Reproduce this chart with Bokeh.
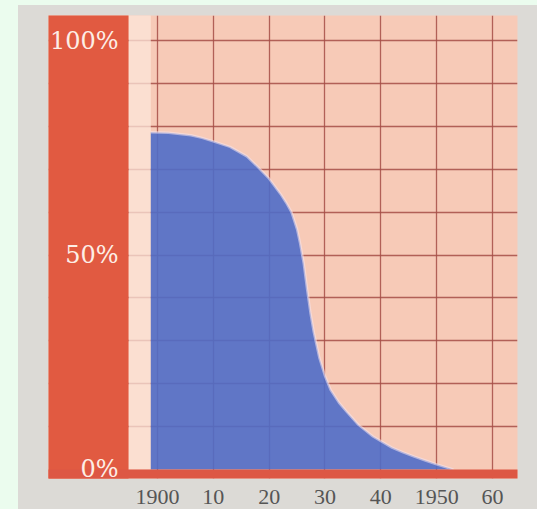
from bokeh.plotting import figure
from bokeh.models import Range1d, FixedTicker, GlobalInlineStyleSheet
from bokeh.embed import file_html
from bokeh.resources import INLINE

# ---- data ----
years = [1898.8, 1902, 1906, 1908, 1910, 1913, 1916, 1918, 1920, 1922, 1923, 1924,
         1925, 1925.5, 1926.2, 1926.8, 1927.4, 1928, 1929, 1930, 1931, 1932.5,
         1934, 1936, 1938.6, 1942, 1944, 1946, 1948, 1950, 1953]
share = [78.6, 78.5, 77.9, 77.3, 76.5, 75.2, 73.0, 70.5, 67.8, 64.3, 62.3, 60.0,
         56.0, 53.0, 48.0, 42.0, 36.5, 32.0, 26.0, 21.8, 18.6, 15.6,
         13.3, 10.4, 7.7, 5.1, 4.0, 3.0, 2.1, 1.2, 0.0]

x_ticks = [1900, 1910, 1920, 1930, 1940, 1950, 1960]
x_tick_labels = ["1900", "10", "20", "30", "40", "1950", "60"]
y_ticks = [0, 50, 100]
y_tick_labels = ["0%", "50%", "100%"]
y_grid_ticks = [10, 20, 30, 40, 50, 60, 70, 80, 90, 100]

# ---- layout ----
X0, X1 = 1880.48, 1964.48
Y0, Y1 = -2.1, 105.83
BAND_RIGHT = 1894.81

css = """
html { background-color:#dcdad6;
  background-image: linear-gradient(to right, #ebfcee 18px, transparent 18px),
                    linear-gradient(to bottom, #ebfcee 5px, transparent 5px);
  background-repeat:no-repeat; background-size:100% 100%; min-height:100%; }
"""

p = figure(width=537, height=509, output_backend="svg", toolbar_location=None,
           x_range=Range1d(X0, X1), y_range=Range1d(Y0, Y1),
           min_border_left=48, min_border_right=20, min_border_top=15, min_border_bottom=31)
p.stylesheets = [GlobalInlineStyleSheet(css=css)]
p.border_fill_color = None
p.border_fill_alpha = 0
p.background_fill_color = "#f7cab7"
p.outline_line_color = None

# pale strip next to the red band
p.quad(left=[BAND_RIGHT], right=[years[0]], bottom=[0], top=[Y1 + 5],
       fill_color="#fce6da", fill_alpha=0.75, line_color=None)

# blue area
p.varea(x=years, y1=0, y2=share, fill_color="#4f6dc8", fill_alpha=0.9)
p.line(years, share, line_color="#f4e4ee", line_width=2.5, line_alpha=0.55)

# red band and baseline
p.quad(left=[X0 - 10], right=[BAND_RIGHT], bottom=[Y0 - 5], top=[Y1 + 5],
       fill_color="#e15a41", line_color=None)
p.quad(left=[X0 - 10], right=[X1 + 10], bottom=[Y0 - 5], top=[0],
       fill_color="#dd5744", line_color=None)

# grids
p.xgrid.ticker = FixedTicker(ticks=x_ticks)
p.ygrid.ticker = FixedTicker(ticks=y_grid_ticks)
for g in (p.xgrid, p.ygrid):
    g.grid_line_color = "#a64e46"
    g.grid_line_width = 1.3
    g.grid_line_alpha = 0.85

# x axis
xa = p.xaxis[0]
xa.ticker = FixedTicker(ticks=x_ticks)
xa.major_label_overrides = {t: l for t, l in zip(x_ticks, x_tick_labels)}
xa.major_label_text_font = "Liberation Serif"
xa.major_label_text_font_size = "22px"
xa.major_label_text_color = "#555555"
xa.major_label_standoff = 5
xa.axis_line_color = None
xa.major_tick_line_color = None
xa.minor_tick_line_color = None

# y axis (labels drawn inside the red band)
ya = p.yaxis[0]
ya.ticker = FixedTicker(ticks=y_ticks)
ya.major_label_overrides = {t: l for t, l in zip(y_ticks, y_tick_labels)}
ya.major_label_text_font = "DejaVu Serif"
ya.major_label_text_font_size = "24px"
ya.major_label_text_color = "#fdeee6"
ya.major_label_standoff = -76
ya.axis_line_color = None
ya.major_tick_line_color = None
ya.minor_tick_line_color = None

open("out.html", "w").write(file_html(p, INLINE))
